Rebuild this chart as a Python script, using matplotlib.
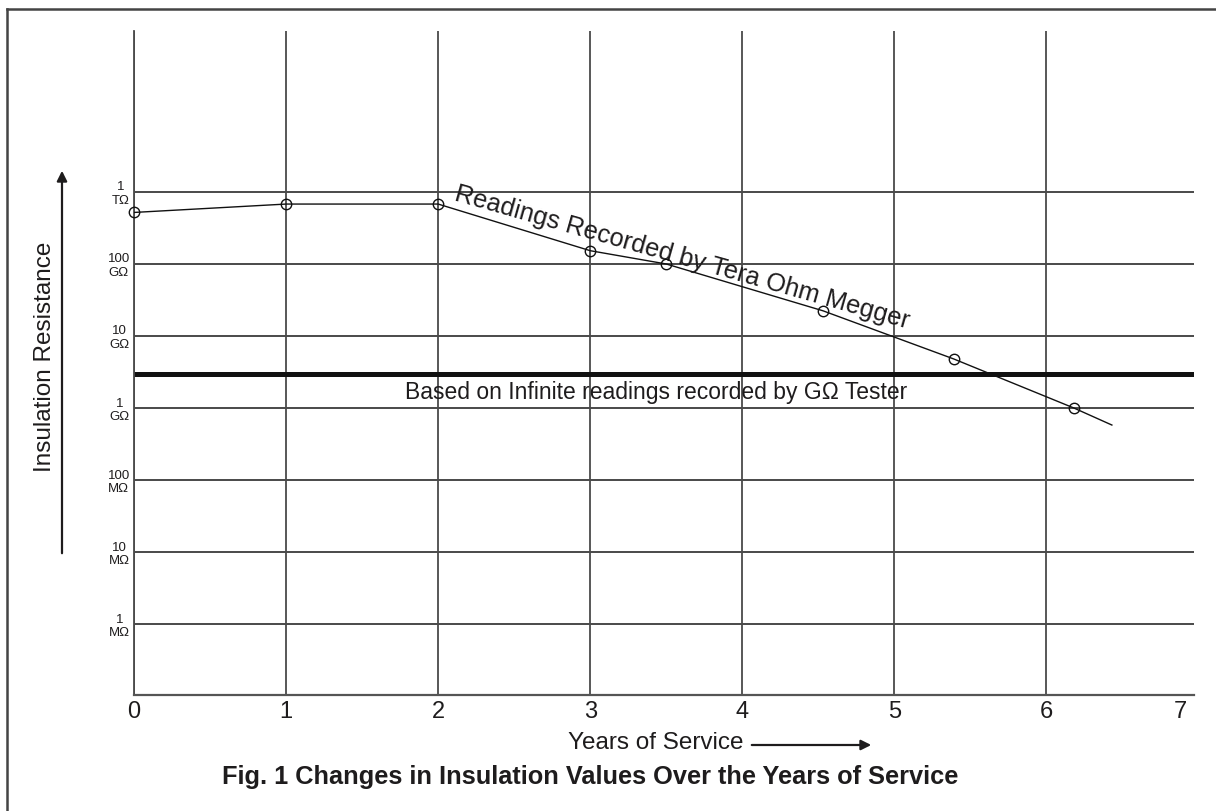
import matplotlib
matplotlib.use("Agg")
import matplotlib.pyplot as plt
from matplotlib.lines import Line2D

plt.rcParams['font.family'] = ['Liberation Sans', 'DejaVu Sans']

# Measured insulation resistance (ohms) against years of service
years = [0, 1, 2, 3, 3.5, 4.53, 5.39, 6.18]
resistance = [5.2e11, 6.8e11, 6.8e11, 1.53e11, 1.0e11, 2.24e10, 4.8e9, 1.0e9]
# Trend continuation beyond the last reading
trend_end_year = 6.43
trend_end_value = 5.8e8
# Limit of the GΩ tester (readings above this show as infinite)
tester_limit = 2.94e9

y_ticks = [1e6, 1e7, 1e8, 1e9, 1e10, 1e11, 1e12]
y_tick_labels = ['1\nMΩ', '10\nMΩ', '100\nMΩ', '1\nGΩ', '10\nGΩ', '100\nGΩ', '1\nTΩ']
x_ticks = [0, 1, 2, 3, 4, 5, 6]
x_tick_labels = ['0', '1', '2', '3', '4', '5', '6', '7']

W, H = 1216, 811
fig = plt.figure(figsize=(W / 100, H / 100), dpi=100)


def fx(x):
    return x / W


def fy(y):
    return 1 - y / H


ax = fig.add_axes([fx(134), fy(695), fx(1194) - fx(134), fy(31) - fy(695)])
ax.set_yscale('log')
ax.set_xlim(0, 6.97)
ax.set_ylim(10 ** 5.014, 10 ** 14.236)

text_c = '#1e1c1d'

# grid
for yv in y_ticks:
    ax.axhline(yv, color='#2a2a2a', lw=1.2, zorder=1)
for xv in x_ticks:
    ax.axvline(xv, color='#4a4a4a', lw=1.3, zorder=1)

# tester limit
ax.axhline(tester_limit, color='#111111', lw=3.6, zorder=2)
ax.text(3.43, tester_limit * 0.55, 'Based on Infinite readings recorded by GΩ Tester',
        ha='center', va='center', fontsize=16.5, color=text_c)

# readings
ax.plot(years + [trend_end_year], resistance + [trend_end_value],
        color='#111111', lw=1.0, zorder=3)
ax.plot(years, resistance, ls='none', marker='o', ms=7.5, mfc='none',
        mec='#111111', mew=1.0, zorder=4, clip_on=False)

ax.text(2.1, 7.8e11, 'Readings Recorded by Tera Ohm Megger', rotation=-15.8,
        rotation_mode='anchor', ha='left', va='baseline', fontsize=18.3,
        color=text_c)

ax.set_yticks(y_ticks)
ax.set_yticklabels(y_tick_labels, fontsize=9.5, color=text_c,
                   multialignment='center')
ax.minorticks_off()
ax.set_xticks(x_ticks + [6.88])
ax.set_xticklabels(x_tick_labels, fontsize=17, color=text_c)
ax.tick_params(axis='y', length=0, pad=3)
ax.tick_params(axis='x', length=0, pad=4)

for side in ['top', 'right']:
    ax.spines[side].set_visible(False)
ax.spines['left'].set_color('#4a4a4a')
ax.spines['left'].set_linewidth(1.3)
ax.spines['bottom'].set_color('#555555')
ax.spines['bottom'].set_linewidth(1.6)

# axis titles with arrows
fig.text(fx(45), fy(357), 'Insulation Resistance', rotation=90, ha='center',
         va='center', fontsize=17.5, color=text_c)
fig.add_artist(matplotlib.patches.FancyArrowPatch(
    (fx(62), fy(556)), (fx(62), fy(168)), transform=fig.transFigure,
    arrowstyle='-|>,head_length=6,head_width=3', color=text_c, lw=1.6))

fig.text(fx(656), fy(743), 'Years of Service', ha='center', va='center',
         fontsize=17.5, color=text_c)
fig.add_artist(matplotlib.patches.FancyArrowPatch(
    (fx(749), fy(745)), (fx(874), fy(745)), transform=fig.transFigure,
    arrowstyle='-|>,head_length=6,head_width=3', color=text_c, lw=1.6))

fig.text(fx(590), fy(777), 'Fig. 1 Changes in Insulation Values Over the Years of Service',
         ha='center', va='center', fontsize=18.3, fontweight='bold', color=text_c)

# frame
fig.add_artist(Line2D([fx(7), fx(1216)], [fy(9), fy(9)], transform=fig.transFigure,
                      color='#444444', lw=1.8))
fig.add_artist(Line2D([fx(7), fx(7)], [fy(9), fy(811)], transform=fig.transFigure,
                      color='#444444', lw=1.8))

fig.savefig('out.png', dpi=100)
